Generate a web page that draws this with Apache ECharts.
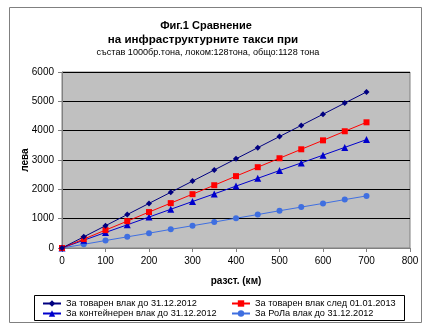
<!DOCTYPE html>
<html><head><meta charset="utf-8">
<script src="https://cdn.jsdelivr.net/npm/echarts@6/dist/echarts.min.js"></script>
<style>html,body{margin:0;padding:0;background:#fff}#c{width:433px;height:336px}</style>
</head><body><div id="c"></div>
<script>
var distances = [0,50,100,150,200,250,300,350,400,450,500,550,600,650,700];
var seriesNames = ['За товарен влак до 31.12.2012','За товарен влак след 01.01.2013','За контейнерен влак до 31.12.2012','За РоЛа влак до 31.12.2012'];
var freightOld = [0,380,760,1140,1520,1900,2280,2660,3040,3420,3800,4180,4560,4940,5320];
var freightNew = [0,305,610,915,1225,1530,1835,2140,2450,2755,3060,3365,3670,3980,4285];
var container = [0,265,530,790,1055,1320,1585,1845,2110,2375,2640,2900,3165,3430,3695];
var rola = [0,125,255,380,505,635,760,885,1015,1140,1270,1395,1520,1650,1775];
var titleLines = ['Фиг.1 Сравнение','на инфраструктурните такси при','състав 1000бр.тона, локом:128тона, общо:1128 тона'];
var xName = 'разст. (км)', yName = 'лева';

function pairs(v){ return distances.map(function(d,i){ return [d, v[i]]; }); }
var colors = ['#000080','#ff0000','#0000cc','#3f6fe0'];
var symbols = ['diamond','rect','triangle','circle'];
var sizes = [6,6,7,6];
var data = [freightOld, freightNew, container, rola];
var font = 'Liberation Sans, Arial, sans-serif';

var series = data.map(function(v,i){
  return {name: seriesNames[i], type:'line', data: pairs(v), symbol: symbols[i], symbolSize: sizes[i],
    showAllSymbol:true, lineStyle:{color:colors[i], width:1}, itemStyle:{color:colors[i]}, z: 10-i, animation:false};
});
var legPos = [[42,299],[231,299],[42,309],[231,309]];
var legends = seriesNames.map(function(n,i){
  return {data:[n], left: legPos[i][0], top: legPos[i][1], padding:0, itemWidth:18, itemHeight:8, itemGap:4,
    textStyle:{fontFamily:font, fontSize:9.2, color:'#000'}, selectedMode:false};
});
var chart = echarts.init(document.getElementById('c'));
chart.setOption({
  animation:false,
  backgroundColor:'#fff',
  title:[
    {text:titleLines[0], left:206, textAlign:'center', top:20, padding:0, textStyle:{fontFamily:font, fontSize:11, fontWeight:'bold', color:'#000'}},
    {text:titleLines[1], left:203, textAlign:'center', top:34, padding:0, textStyle:{fontFamily:font, fontSize:11.6, fontWeight:'bold', color:'#000'}},
    {text:titleLines[2], left:208, textAlign:'center', top:48, padding:0, textStyle:{fontFamily:font, fontSize:9.1, fontWeight:'normal', color:'#000'}}
  ],
  legend: legends,
  grid:{left:62, right:23, top:72, bottom:88, show:true, backgroundColor:'#c0c0c0', borderColor:'#808080', borderWidth:1},
  xAxis:{type:'value', min:0, max:800, interval:100, name:xName, nameLocation:'middle', nameGap:28, nameMoveOverlap:false,
    nameTextStyle:{fontFamily:font, fontSize:10, fontWeight:'bold', color:'#000'},
    axisLine:{show:true, onZero:false, lineStyle:{color:'#808080'}}, axisTick:{show:true, length:4, lineStyle:{color:'#808080'}},
    axisLabel:{fontFamily:font, fontSize:10, color:'#000', margin:8, formatter:function(v){return String(v);}}, splitLine:{show:false}},
  yAxis:{type:'value', min:0, max:6000, interval:1000, name:yName, nameLocation:'middle', nameGap:32, nameMoveOverlap:false,
    nameTextStyle:{fontFamily:font, fontSize:10, fontWeight:'bold', color:'#000'},
    axisLine:{show:true, lineStyle:{color:'#808080'}}, axisTick:{show:true, length:4, lineStyle:{color:'#808080'}},
    axisLabel:{fontFamily:font, fontSize:10, color:'#000', margin:8, formatter:function(v){return String(v);}},
    splitLine:{show:true, lineStyle:{color:'#000', width:1}}},
  graphic:[
    {type:'rect', shape:{x:9.5, y:7.5, width:412, height:315}, style:{fill:null, stroke:'#808080', lineWidth:1}, z:-1},
    {type:'rect', shape:{x:34.5, y:295.5, width:370, height:25}, style:{fill:null, stroke:'#000', lineWidth:1}, z:-1}
  ],
  series: series
});
</script></body></html>
